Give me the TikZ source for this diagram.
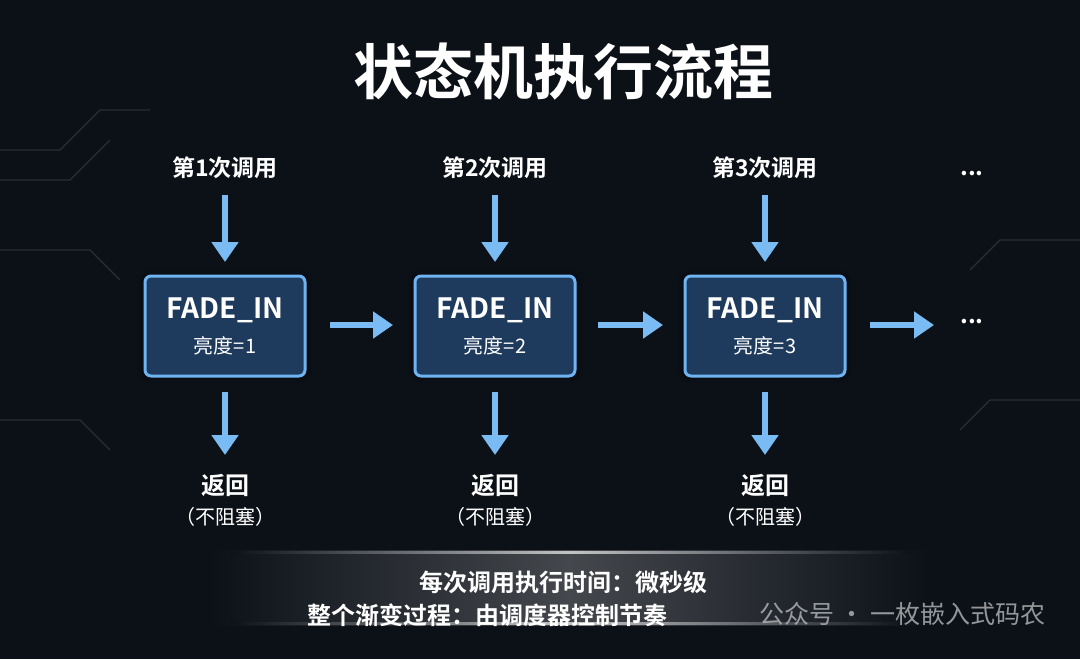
\documentclass[tikz,border=0pt]{standalone}
\usepackage{fontspec}
\setmainfont{Noto Sans CJK SC}
\newfontfamily\cjkb{Noto Sans CJK SC Bold}
\usetikzlibrary{arrows.meta,shadows.blur}
\definecolor{bg}{HTML}{0C1118}
\definecolor{boxfill}{HTML}{1E3A5C}
\definecolor{boxedge}{HTML}{6FB4F2}
\definecolor{arr}{HTML}{79BBF2}
\definecolor{band}{HTML}{44474C}
\begin{document}
\begin{tikzpicture}[x=0.5pt,y=-0.5pt,
  statebox/.style={draw=boxedge,line width=1.5pt,fill=boxfill,rounded corners=3pt,minimum width=80pt,minimum height=50pt},
  darr/.style={draw=arr,line width=3pt,-{Triangle[length=10pt,width=13pt]}},
  lbl/.style={text=white,font=\fontsize{12}{14}\selectfont},
  sub/.style={text=white,font=\fontsize{10}{12}\selectfont}]
\fill[bg] (0,0) rectangle (1080,659);
\useasboundingbox (0,0) rectangle (1080,659);
\begin{scope}[draw=white!12!bg,line width=0.6pt]
\draw (0,150) -- (60,150) -- (100,110) -- (150,110);
\draw (0,180) -- (70,180) -- (110,140);
\draw (0,250) -- (90,250) -- (120,280);
\draw (1080,240) -- (1000,240) -- (970,270);
\draw (1080,400) -- (990,400) -- (960,430);
\draw (0,420) -- (80,420) -- (110,450);
\end{scope}
\node[text=white,font=\cjkb\fontsize{30}{34}\selectfont] (title) at (563,72) {状态机执行流程};
\foreach \i/\x in {1/225,2/495,3/765}{
  \node[lbl,font=\cjkb\fontsize{11.5}{14}\selectfont] (call\i) at (\x,168) {第\i 次调用};
  \coordinate (ta\i) at (\x,195);
  \node[statebox,blur shadow={shadow blur steps=6,shadow xshift=0pt,shadow yshift=0pt,shadow scale=1.04,shadow opacity=40}] (b\i) at (\x,326) {};
  \node[text=white,font=\cjkb\fontsize{14}{16}\selectfont] (f\i) at (\x,310) {FADE\_IN};
  \node[sub] (l\i) at (\x,346) {亮度=\i};
  \node[lbl,font=\cjkb\fontsize{12}{14}\selectfont] (r\i) at (\x,485) {返回};
  \node[sub] (n\i) at (\x,517) {（不阻塞）};
  \draw[darr] (ta\i) -- (b\i.north|-0,262);
  \draw[darr] (b\i.south|-0,392) -- (r\i.north|-0,455);
}
\node[lbl,font=\cjkb\fontsize{12}{14}\selectfont] (d1) at (972,174) {...};
\node[lbl,font=\cjkb\fontsize{12}{14}\selectfont] (d2) at (972,322) {...};
\coordinate (a1s) at (330,325); \coordinate (a1e) at (393,325);
\coordinate (a2s) at (598,325); \coordinate (a2e) at (663,325);
\coordinate (a3s) at (870,325); \coordinate (a3e) at (934,325);
\draw[darr] (a1s) -- (a1e);
\draw[darr] (a2s) -- (a2e);
\draw[darr] (a3s) -- (a3e);
\shade[left color=bg,right color=bg,middle color=band] (210,550) rectangle (930,625);
\shade[left color=bg,right color=bg,middle color=white!75!bg] (230,551) rectangle (910,553);
\shade[left color=bg,right color=bg,middle color=white!75!bg] (230,622) rectangle (910,624);
\node[lbl,font=\cjkb\fontsize{12}{14}\selectfont] (t1) at (563,582) {每次调用执行时间：微秒级};
\node[lbl,font=\cjkb\fontsize{12}{14}\selectfont,anchor=west] (t2) at (300,615) {整个渐变过程：由调度器控制节奏};
\node[text=white!70!bg,font=\fontsize{12.5}{14}\selectfont,anchor=west,opacity=0.8] (wm) at (752,614) {公众号 · 一枚嵌入式码农};
\end{tikzpicture}
\end{document}
